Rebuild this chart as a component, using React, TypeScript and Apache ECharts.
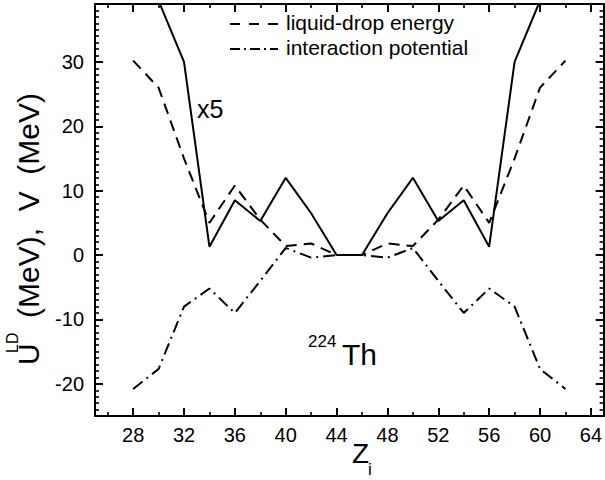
import React, { useEffect, useRef } from "react";
import * as echarts from "echarts";

const FONT = '"Liberation Sans", Arial, Helvetica, sans-serif';

// Data
const zValues = [28, 30, 32, 34, 36, 38, 40, 42, 44, 46, 48, 50, 52, 54, 56, 58, 60, 62];
const liquidDropEnergy = [30.2, 26, 15, 5, 10.8, 5.5, 1.4, 1.8, 0, 0, 1.8, 1.4, 5.5, 10.8, 5, 15, 26, 30.2];
const interactionPotential = [-20.8, -17.7, -8, -5.2, -9, -4, 1.1, -0.4, 0, 0, -0.4, 1.1, -4, -9, -5.2, -8, -17.7, -20.8];
const scaledZ = [30, 32, 34, 36, 38, 40, 42, 44, 46, 48, 50, 52, 54, 56, 58, 60];
const scaledEnergyX5 = [39.5, 30, 1.3, 8.5, 5.3, 12, 6.5, 0, 0, 6.5, 12, 5.3, 8.5, 1.3, 30, 39.5];

const legendNames = ["liquid-drop energy", "interaction potential"];
const DASHED: number[] = [11, 7];
const DASH_DOT: number[] = [12, 5, 2, 5];

// Ticks
const xMajorTicks = [28, 32, 36, 40, 44, 48, 52, 56, 60, 64];
const xMinorTicks = [26, 30, 34, 38, 42, 46, 50, 54, 58, 62];
const yMajorTicks = [-20, -10, 0, 10, 20, 30];
const yMinorTicks: number[] = [];
for (let v = -25; v <= 39; v++) if (v % 10 !== 0) yMinorTicks.push(v);

const X_MIN = 25, X_MAX = 65, Y_MIN = -25, Y_MAX = 39;

function xAxis(position: "top" | "bottom", ticks: number[], len: number, main: boolean, labels: boolean) {
  return {
    type: "value",
    min: X_MIN,
    max: X_MAX,
    position,
    axisLine: { show: main, onZero: false, lineStyle: { color: "#000", width: 2 } },
    axisTick: { show: true, inside: true, length: len, customValues: ticks, lineStyle: { color: "#000", width: main ? 2 : 1.6 } },
    axisLabel: labels
      ? { show: true, customValues: xMajorTicks, fontSize: 20, fontFamily: FONT, color: "#000", margin: 9 }
      : { show: false },
    splitLine: { show: false },
  };
}

function yAxis(position: "left" | "right", ticks: number[], len: number, main: boolean, labels: boolean) {
  return {
    type: "value",
    min: Y_MIN,
    max: Y_MAX,
    position,
    axisLine: { show: main, onZero: false, lineStyle: { color: "#000", width: 2 } },
    axisTick: { show: true, inside: true, length: len, customValues: ticks, lineStyle: { color: "#000", width: main ? 2 : 1.6 } },
    axisLabel: labels
      ? { show: true, customValues: yMajorTicks, fontSize: 20, fontFamily: FONT, color: "#000", margin: 11 }
      : { show: false },
    splitLine: { show: false },
  };
}

function txt(x: number, y: number, text: string, size: number, align = "left", rotation = 0) {
  return {
    type: "text",
    x,
    y,
    rotation,
    silent: true,
    style: {
      text,
      fontSize: size,
      fontFamily: FONT,
      fill: "#000",
      textAlign: align,
      align,
      textVerticalAlign: "middle",
      verticalAlign: "middle",
    },
  };
}

function legendLine(y: number, dash: number[]) {
  return {
    type: "line",
    silent: true,
    shape: { x1: 230, y1: y, x2: 278, y2: y },
    style: { stroke: "#000", lineWidth: 2, lineDash: dash, fill: null },
  };
}

export default function App() {
  const ref = useRef<HTMLDivElement>(null);
  useEffect(() => {
    const chart = echarts.init(ref.current!, null, { renderer: "svg" });
    const option = {
      animation: false,
      backgroundColor: "#fff",
      grid: { left: 95, right: -1, top: 4, bottom: 64, containLabel: false },
      xAxis: [
        xAxis("bottom", xMajorTicks, 8, true, true),
        xAxis("bottom", xMinorTicks, 4, false, false),
        xAxis("top", xMajorTicks, 8, true, false),
        xAxis("top", xMinorTicks, 4, false, false),
      ],
      yAxis: [
        yAxis("left", yMajorTicks, 8, true, true),
        yAxis("left", yMinorTicks, 4, false, false),
        yAxis("right", yMajorTicks, 8, true, false),
        yAxis("right", yMinorTicks, 4, false, false),
      ],
      series: [
        {
          name: legendNames[0],
          type: "line",
          symbol: "none",
          data: zValues.map((z, i) => [z, liquidDropEnergy[i]]),
          lineStyle: { color: "#000", width: 2, type: DASHED },
          itemStyle: { color: "#000" },
        },
        {
          name: legendNames[1],
          type: "line",
          symbol: "none",
          data: zValues.map((z, i) => [z, interactionPotential[i]]),
          lineStyle: { color: "#000", width: 2, type: DASH_DOT },
          itemStyle: { color: "#000" },
        },
        {
          name: "x5",
          type: "line",
          symbol: "none",
          data: scaledZ.map((z, i) => [z, scaledEnergyX5[i]]),
          lineStyle: { color: "#000", width: 2, type: "solid" },
          itemStyle: { color: "#000" },
        },
      ],
      graphic: [
        // legend
        legendLine(24, [10, 9]),
        txt(286, 22, legendNames[0], 21),
        legendLine(49, [10, 4, 2, 4]),
        txt(286, 47, legendNames[1], 21),
        // y-axis title
        txt(28.5, 365, "U", 30, "left", Math.PI / 2),
        txt(12.5, 353, "LD", 16, "left", Math.PI / 2),
        txt(28.5, 318, "(MeV),  V  (MeV)", 30, "left", Math.PI / 2),
        // x-axis title
        txt(352, 453, "Z", 28),
        txt(368, 469, "i", 17),
        // annotations
        txt(197, 109, "x5", 25),
        txt(308, 341, "224", 17),
        txt(342, 354, "Th", 30),
      ],
    };
    chart.setOption(option as any);
    return () => chart.dispose();
  }, []);
  return (
    <div
      ref={ref}
      style={{ position: "fixed", left: 0, top: 0, width: 605, height: 480, background: "#fff" }}
    />
  );
}
